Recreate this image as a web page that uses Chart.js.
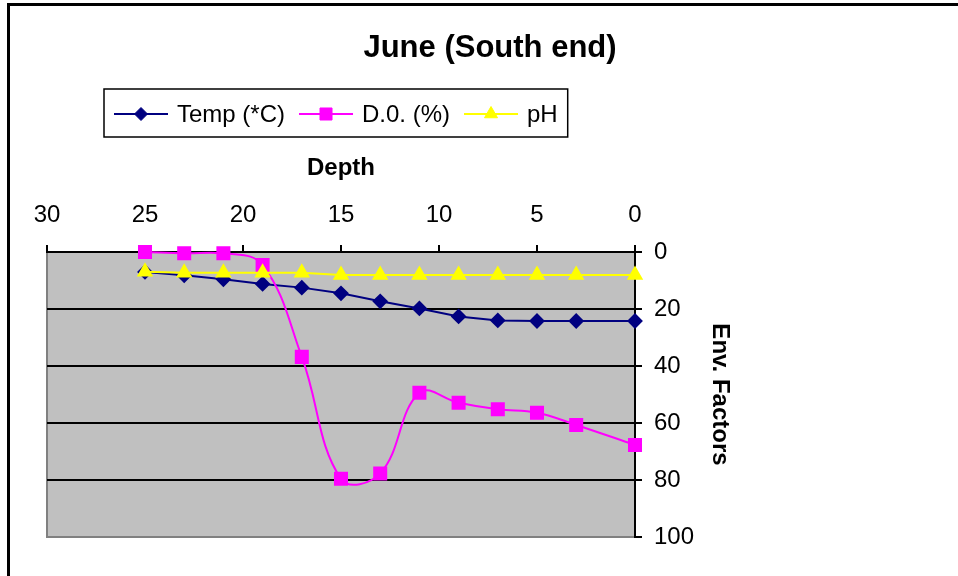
<!DOCTYPE html>
<html>
<head>
<meta charset="utf-8">
<script src="https://cdn.jsdelivr.net/npm/chart.js@4.4.0/dist/chart.umd.min.js"></script>
<style>
  html, body { margin: 0; padding: 0; background: #fff; }
  #wrap { width: 958px; height: 576px; }
</style>
</head>
<body>
<div id="wrap"><canvas id="chart" width="958" height="576"></canvas></div>
<script>
// Values
const depth = [25, 23, 21, 19, 17, 15, 13, 11, 9, 7, 5, 3, 0];
const temp = [7, 8.2, 9.6, 11.2, 12.5, 14.5, 17.3, 19.8, 22.6, 24, 24.2, 24.2, 24.2];
const dissolvedOxygen = [0, 0.4, 0.4, 4.6, 36.8, 79.6, 77.7, 49.4, 52.9, 55.2, 56.4, 60.7, 67.7];
const ph = [6.9, 7.3, 7.3, 7.3, 7.3, 8.1, 8.1, 8.1, 8.1, 8.1, 8.1, 8.1, 8.1];
const depthTicks = [0, 5, 10, 15, 20, 25, 30];
const factorTicks = [0, 20, 40, 60, 80, 100];

const FONT = '"Liberation Sans", Arial, sans-serif';

function points(values) {
  return depth.map((d, i) => ({ x: d, y: values[i] }));
}

// background, frame, title and boxed legend
const decor = {
  id: 'decor',
  beforeDraw(chart) {
    const { ctx, chartArea: a } = chart;
    ctx.save();
    ctx.fillStyle = '#fff';
    ctx.fillRect(0, 0, chart.width, chart.height);
    ctx.fillStyle = '#c0c0c0';
    ctx.fillRect(a.left, a.top, a.right - a.left, a.bottom - a.top);
    ctx.strokeStyle = '#808080';
    ctx.lineWidth = 2;
    ctx.beginPath();
    ctx.moveTo(a.left, a.top);
    ctx.lineTo(a.left, a.bottom);
    ctx.lineTo(a.right, a.bottom);
    ctx.stroke();
    ctx.fillStyle = '#000';
    ctx.fillRect(7, 3, chart.width, 3);
    ctx.fillRect(7, 3, 3, chart.height);
    ctx.restore();
  },
  afterDraw(chart) {
    const ctx = chart.ctx;
    ctx.save();
    ctx.fillStyle = '#000';
    ctx.textAlign = 'center';
    ctx.textBaseline = 'alphabetic';
    ctx.font = 'bold 31px ' + FONT;
    ctx.fillText('June (South end)', 490, 57);

    // legend
    ctx.font = '24px ' + FONT;
    const boxLeft = 104, boxTop = 89, boxH = 48, cy = 114;
    let x = boxLeft + 10;
    chart.data.datasets.forEach((ds, i) => {
      ctx.strokeStyle = ds.borderColor;
      ctx.lineWidth = ds.borderWidth;
      ctx.beginPath();
      ctx.moveTo(x, cy);
      ctx.lineTo(x + 54, cy);
      ctx.stroke();
      ctx.fillStyle = ds.pointBackgroundColor;
      ctx.strokeStyle = ds.pointBorderColor;
      ctx.lineWidth = 1;
      Chart.helpers.drawPoint(ctx, { pointStyle: ds.pointStyle, radius: ds.pointRadius, rotation: 0, borderWidth: 1 }, x + 27, cy);
      x += 63;
      ctx.fillStyle = '#000';
      ctx.textAlign = 'left';
      ctx.textBaseline = 'middle';
      ctx.fillText(ds.label, x, cy + 1);
      x += ctx.measureText(ds.label).width;
      if (i < chart.data.datasets.length - 1) x += 14;
    });
    ctx.strokeStyle = '#000';
    ctx.lineWidth = 1.5;
    ctx.strokeRect(boxLeft, boxTop, x + 10 - boxLeft, boxH);
    ctx.restore();
  }
};

new Chart(document.getElementById('chart'), {
  type: 'line',
  data: {
    datasets: [
      {
        label: 'Temp (*C)',
        data: points(temp),
        borderColor: '#000080',
        borderWidth: 2,
        pointStyle: 'rectRot',
        pointRadius: 6.5,
        pointBackgroundColor: '#000080',
        pointBorderColor: '#000080',
        tension: 0,
        order: 2,
        clip: false
      },
      {
        label: 'D.0. (%)',
        data: points(dissolvedOxygen),
        borderColor: '#ff00ff',
        borderWidth: 2,
        pointStyle: 'rect',
        pointRadius: 8.5,
        pointBackgroundColor: '#ff00ff',
        pointBorderColor: '#ff00ff',
        tension: 0.4,
        order: 1,
        clip: false
      },
      {
        label: 'pH',
        data: points(ph),
        borderColor: '#ffff00',
        borderWidth: 2,
        pointStyle: 'triangle',
        pointRadius: 7.5,
        pointBackgroundColor: '#ffff00',
        pointBorderColor: '#ffff00',
        tension: 0,
        order: 0,
        clip: false
      }
    ]
  },
  options: {
    responsive: false,
    animation: false,
    events: [],
    devicePixelRatio: 1,
    layout: { padding: { left: 47, top: 0, right: 0, bottom: 39 } },
    plugins: {
      legend: { display: false },
      title: { display: false },
      tooltip: { enabled: false }
    },
    scales: {
      x: {
        type: 'linear',
        position: 'top',
        reverse: true,
        min: 0,
        max: 30,
        afterBuildTicks: s => { s.ticks = depthTicks.map(v => ({ value: v })); },
        afterFit: s => { s.height = 252; },
        ticks: { color: '#000', font: { family: FONT, size: 24 }, padding: 15, maxRotation: 0 },
        grid: { drawOnChartArea: false, drawTicks: true, tickLength: 7, color: '#000', lineWidth: 2 },
        border: { display: true, color: '#000', width: 2 },
        title: {
          display: true,
          text: 'Depth',
          color: '#000',
          font: { family: FONT, size: 24, weight: 'bold' },
          padding: { top: 154, bottom: 0 }
        }
      },
      y: {
        type: 'linear',
        position: 'right',
        reverse: true,
        min: 0,
        max: 100,
        afterBuildTicks: s => { s.ticks = factorTicks.map(v => ({ value: v })); },
        afterFit: s => { s.width = 323; },
        ticks: { color: '#000', font: { family: FONT, size: 24 }, padding: 12 },
        grid: {
          drawOnChartArea: true,
          tickLength: 7,
          lineWidth: 2,
          color: c => (c.tick && c.tick.value === 100 ? '#808080' : '#000'),
          tickColor: '#000'
        },
        border: { display: true, color: '#000', width: 2 },
        title: {
          display: true,
          text: 'Env. Factors',
          color: '#000',
          font: { family: FONT, size: 24, weight: 'bold' },
          padding: { top: 224, bottom: 0 }
        }
      }
    }
  },
  plugins: [decor]
});
</script>
</body>
</html>
